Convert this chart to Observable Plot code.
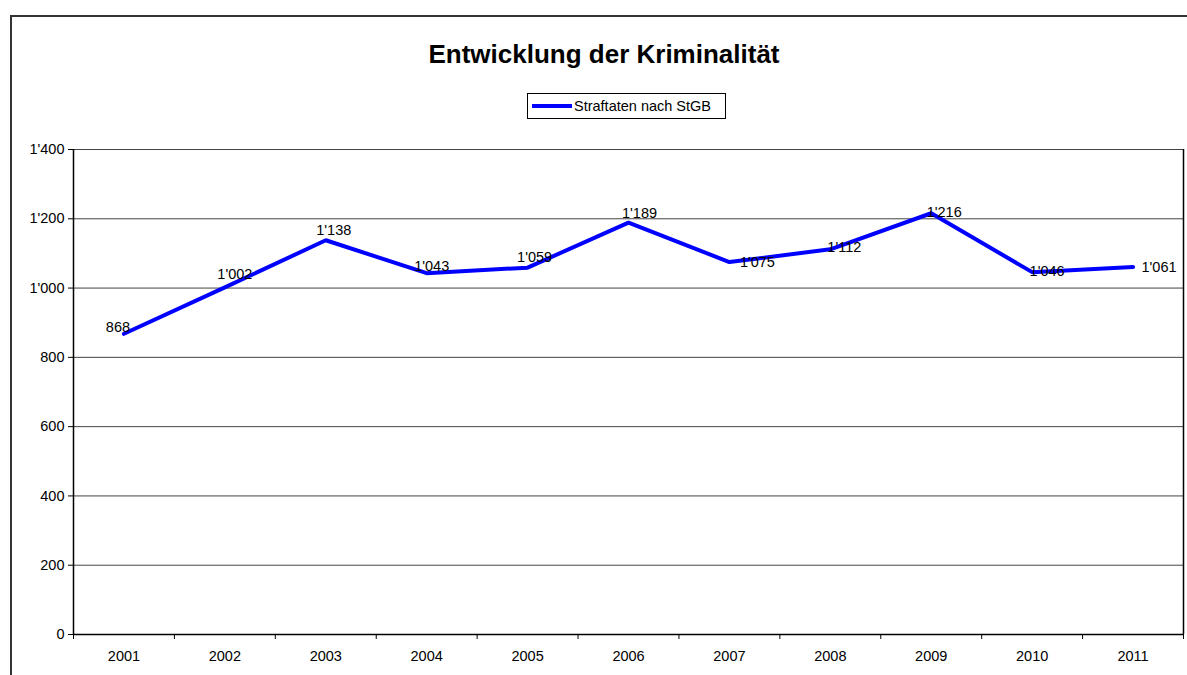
<!DOCTYPE html>
<html>
<head>
<meta charset="utf-8">
<script src="https://cdn.jsdelivr.net/npm/d3@7"></script>
<script src="https://cdn.jsdelivr.net/npm/@observablehq/plot@0.6"></script>
<style>
  html, body { margin: 0; padding: 0; background: #fff; width: 1187px; height: 675px; overflow: hidden; font-family: "Liberation Sans", Arial, sans-serif; }
  #frame { position: absolute; left: 10px; top: 15px; width: 1200px; height: 700px; border-left: 2px solid #333; border-top: 2px solid #333; box-sizing: border-box; }
  #title { position: absolute; left: 0; width: 1208px; top: 39px; text-align: center; font-weight: bold; font-size: 26px; color: #000; }
  #legend { position: absolute; left: 527px; top: 93px; width: 199px; height: 26px; border: 1px solid #000; box-sizing: border-box; display: flex; align-items: center; font-size: 14.5px; }
  #legend .sw { width: 40px; height: 4px; background: #0000ff; margin-left: 4px; margin-right: 2px; }
  #chart { position: absolute; left: 0; top: 130px; }
</style>
</head>
<body>
<div id="frame"></div>
<div id="title">Entwicklung der Kriminalität</div>
<div id="legend"><div class="sw"></div><span>Straftaten nach StGB</span></div>
<div id="chart"></div>
<script>
const years = [2001, 2002, 2003, 2004, 2005, 2006, 2007, 2008, 2009, 2010, 2011];
const straftaten = [868, 1002, 1138, 1043, 1059, 1189, 1075, 1112, 1216, 1046, 1061];
const yTicks = [0, 200, 400, 600, 800, 1000, 1200, 1400];

const data = years.map((y, i) => ({year: y, value: straftaten[i]}));
const loc = d3.formatLocale({decimal: ".", thousands: "'", grouping: [3], currency: ["", ""]});
const fmt = loc.format(",");

// label placement offsets (styling, not data)
const labelDx = [-6, 10, 8, 5, 7, 11, 28, 14, 13, 15, 26];
const labelDy = [-6, -13, -10, -7, -10, -9, 0, -2, -1, -1, 0];

const boundaries = d3.range(years.length + 1).map(i => years[0] - 0.5 + i);

const chart = Plot.plot({
  width: 1187,
  height: 545,
  marginTop: 19,
  marginBottom: 41,
  marginLeft: 73,
  marginRight: 4,
  style: {fontFamily: "Liberation Sans, Arial, sans-serif", fontSize: "14.5px", color: "#000", background: "transparent"},
  x: {type: "linear", domain: [years[0] - 0.5, years[years.length - 1] + 0.5]},
  y: {domain: [0, 1400]},
  marks: [
    Plot.ruleY(yTicks, {stroke: "#444", strokeWidth: 1}),
    Plot.ruleX([years[0] - 0.5], {stroke: "#000", strokeWidth: 1.5}),
    Plot.ruleX([years[years.length - 1] + 0.5], {stroke: "#000", strokeWidth: 1.5}),
    Plot.ruleY([0], {stroke: "#000", strokeWidth: 1.5}),
    Plot.axisY({ticks: yTicks, tickSize: 5, tickPadding: 4, tickFormat: fmt, label: null, fontSize: 14.5}),
    Plot.axisX({ticks: boundaries, tickSize: 5, tickFormat: () => "", label: null}),
    Plot.axisX({ticks: years, tickSize: 0, tickPadding: 16, tickFormat: d => String(d), label: null, fontSize: 14.5}),
    Plot.line(data, {x: "year", y: "value", stroke: "#0000ff", strokeWidth: 4, strokeLinejoin: "miter"}),
    ...data.map((d, i) => Plot.text([d], {x: "year", y: "value", text: dd => fmt(dd.value), dx: labelDx[i], dy: labelDy[i], fontSize: 14.5, fill: "#000"}))
  ]
});
document.getElementById("chart").appendChild(chart);
</script>
</body>
</html>
